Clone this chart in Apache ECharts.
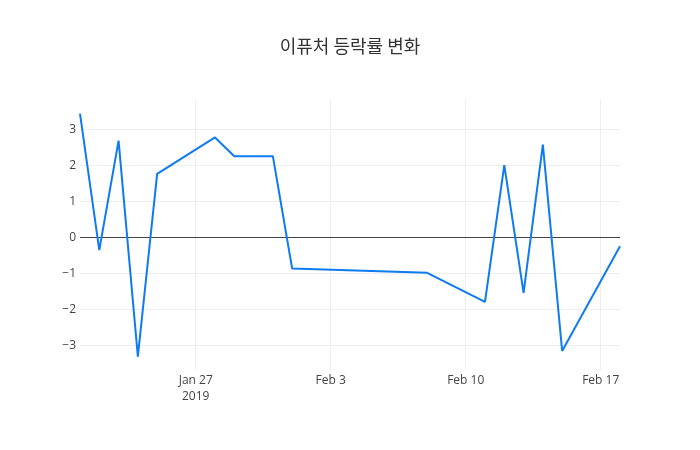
<!DOCTYPE html>
<html>
<head>
<meta charset="utf-8">
<script src="https://cdn.jsdelivr.net/npm/echarts@6/dist/echarts.min.js"></script>
<style>html,body{margin:0;padding:0;background:#fff}#c{width:700px;height:450px}</style>
</head>
<body>
<div id="c"></div>
<script>
var titleText = '이퓨처 등락률 변화';
var dates = ['2019-01-21','2019-01-22','2019-01-23','2019-01-24','2019-01-25','2019-01-28','2019-01-29','2019-01-31','2019-02-01','2019-02-08','2019-02-11','2019-02-12','2019-02-13','2019-02-14','2019-02-15','2019-02-18'];
var values = [3.43,-0.36,2.68,-3.32,1.76,2.77,2.25,2.25,-0.87,-0.99,-1.8,2.0,-1.55,2.57,-3.16,-0.25];
var xRange = ['2019-01-21','2019-02-18'];
var yRange = [-3.69,3.81];
var tickLabels = {0:'Jan 27\n2019', 7:'Feb 3', 14:'Feb 10', 21:'Feb 17'};

function dayNum(s){var p=s.split('-');return Math.round((Date.UTC(+p[0],+p[1]-1,+p[2])-Date.UTC(2019,0,27))/86400000);}
var seriesData = dates.map(function(d,i){return [dayNum(d), values[i]];});

var chart = echarts.init(document.getElementById('c'), null, {renderer:'canvas'});
chart.setOption({
  animation:false,
  backgroundColor:'#fff',
  title:{text:titleText,left:'center',top:32,textStyle:{fontFamily:'"Noto Sans CJK KR", "Open Sans", sans-serif',fontSize:18,fontWeight:'normal',color:'#333'}},
  grid:{left:80,right:80,top:100,bottom:80,containLabel:false},
  xAxis:{type:'value',min:dayNum(xRange[0]),max:dayNum(xRange[1]),minInterval:7,maxInterval:7,
    axisLine:{show:false},axisTick:{show:false},
    splitLine:{show:true,showMinLine:false,showMaxLine:false,lineStyle:{color:'#eee',width:1}},
    axisLabel:{showMinLabel:false,showMaxLabel:false,margin:3,color:'#444',fontSize:12,fontFamily:'"Open Sans", sans-serif',lineHeight:16,
      formatter:function(v){return tickLabels[v]!==undefined?tickLabels[v]:'';}}},
  yAxis:{type:'value',min:yRange[0],max:yRange[1],minInterval:1,maxInterval:1,
    axisLine:{show:false},axisTick:{show:false},
    splitLine:{show:true,showMinLine:false,showMaxLine:false,lineStyle:{color:'#eee',width:1}},
    axisLabel:{showMinLabel:false,showMaxLabel:false,margin:4,color:'#444',fontSize:12,fontFamily:'"Open Sans", sans-serif',
      formatter:function(v){return String(v).replace('-','\u2212');}}},
  series:[{type:'line',data:seriesData,symbol:'none',lineStyle:{color:'#0f7bf0',width:2},
    markLine:{silent:true,symbol:'none',label:{show:false},lineStyle:{color:'#444',width:1,type:'solid'},data:[{yAxis:0}],z:1},z:3}]
});
</script>
</body>
</html>
